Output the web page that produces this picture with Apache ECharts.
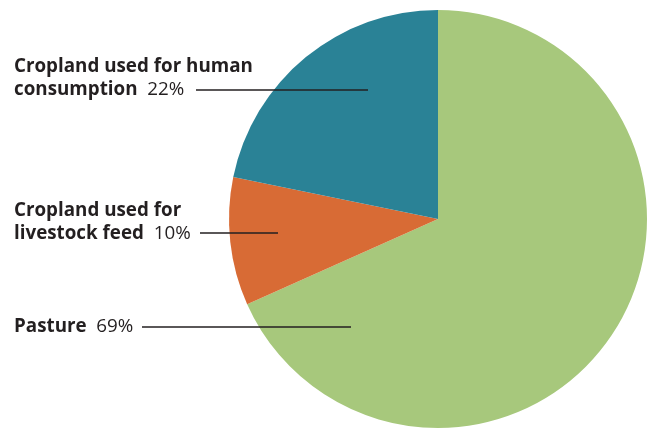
<!DOCTYPE html>
<html><head><meta charset="utf-8">
<script src="https://cdn.jsdelivr.net/npm/echarts@6/dist/echarts.min.js"></script>
<style>html,body{margin:0;padding:0;background:#fff}#c{width:650px;height:428px}</style>
</head><body><div id="c"></div>
<script>
const names = ['Pasture', 'Cropland used for livestock feed', 'Cropland used for human consumption'];
const labelLines = [['Pasture'], ['Cropland used for', 'livestock feed'], ['Cropland used for human', 'consumption']];
const values = [69, 10, 22];
const colors = ['#a7c87c', '#d86b35', '#2a8296'];
// annotation placement: [labelX, labelMidY, lineStartX, lineEndX, lineY]
const labelPos = [[14, 327, 142, 351, 327], [14, 222, 200, 278, 233], [14, 78.5, 196, 368, 90]];

const FONT = 'Open Sans';
const FS = 18.8;
const baseSeries = {
  type: 'pie',
  center: [438, 219],
  radius: 209,
  startAngle: 90,
  clockwise: true,
  silent: true,
  avoidLabelOverlap: false
};

const chart = echarts.init(document.getElementById('c'));
chart.setOption({
  animation: false,
  series: [
    Object.assign({}, baseSeries, {
      z: 2,
      data: names.map((n, i) => ({ name: n, value: values[i], itemStyle: { color: colors[i] } })),
      label: { show: false },
      labelLine: { show: false }
    }),
    Object.assign({}, baseSeries, {
      z: 5,
      data: names.map((n, i) => ({ name: n, value: values[i], itemStyle: { color: 'rgba(0,0,0,0)' } })),
      label: {
        show: true,
        position: 'outer',
        color: '#231f20',
        fontFamily: FONT,
        fontSize: FS,
        lineHeight: 23,
        formatter: p => {
          const ls = labelLines[p.dataIndex];
          const last = ls.length - 1;
          return ls.map((t, k) => k === last ? '{b|' + t + '}  {p|' + values[p.dataIndex] + '%}' : '{b|' + t + '}').join('\n');
        },
        rich: {
          b: { fontWeight: 'bold', fontSize: FS, lineHeight: 23, color: '#231f20', fontFamily: FONT },
          p: { fontSize: FS, lineHeight: 23, color: '#231f20', fontFamily: FONT }
        }
      },
      labelLine: { show: true, lineStyle: { color: '#231f20', width: 1.3 } },
      labelLayout: params => {
        const L = labelPos[params.dataIndex];
        return {
          x: L[0], y: L[1], align: 'left', verticalAlign: 'middle', hideOverlap: false, moveOverlap: null,
          labelLinePoints: [[L[2], L[4]], [L[3], L[4]], [L[3], L[4]]]
        };
      }
    })
  ]
});
</script></body></html>
